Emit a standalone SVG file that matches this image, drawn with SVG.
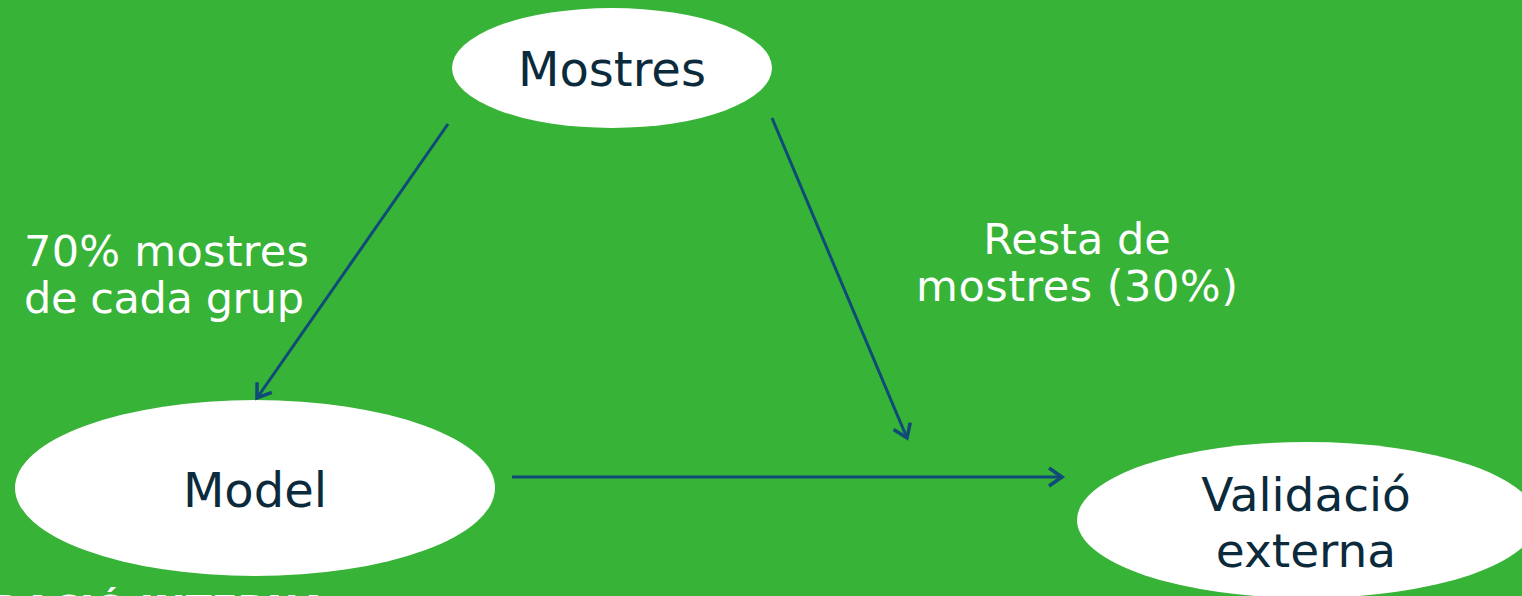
<svg xmlns="http://www.w3.org/2000/svg" width="1522" height="596" viewBox="0 0 1522 596">
<defs>
<marker id="ah" markerWidth="22" markerHeight="22" refX="15" refY="11" orient="auto" markerUnits="userSpaceOnUse">
<path d="M2,2 L15,11 L2,20" fill="none" stroke="#0f4a78" stroke-width="3.5"/>
</marker>
<style>
.node{fill:#ffffff;}
.nt{font-family:"DejaVu Sans",Verdana,sans-serif;fill:#0b2a3c;text-anchor:middle;}
.lbl{font-family:"DejaVu Sans",Verdana,sans-serif;fill:#ffffff;font-size:43px;}
.conn{stroke:#0f4a78;stroke-width:3;fill:none;marker-end:url(#ah);}
</style>
</defs>
<rect width="1522" height="596" fill="#37b337"/>
<g id="mostres">
<ellipse class="node" cx="612" cy="68" rx="160" ry="60"/>
<text class="nt" x="612" y="86" font-size="48">Mostres</text>
</g>
<g id="model">
<ellipse class="node" cx="255" cy="488" rx="240" ry="88"/>
<text class="nt" x="255" y="507" font-size="48">Model</text>
</g>
<g id="validacio">
<ellipse class="node" cx="1307" cy="520" rx="230" ry="78"/>
<text class="nt" x="1306" y="511" font-size="47">Validació</text>
<text class="nt" x="1306" y="567" font-size="47">externa</text>
</g>
<g id="connectors">
<line class="conn" x1="448" y1="124" x2="257" y2="398"/>
<line class="conn" x1="772" y1="118" x2="907" y2="438"/>
<line class="conn" x1="512" y1="477" x2="1062" y2="477"/>
</g>
<g id="labels">
<text class="lbl" x="24" y="266" textLength="285">70% mostres</text>
<text class="lbl" x="24" y="313" textLength="280">de cada grup</text>
<text class="lbl" x="1077" y="254" text-anchor="middle">Resta de</text>
<text class="lbl" x="1077" y="301" text-anchor="middle" textLength="322">mostres (30%)</text>
</g>
<text x="328" y="622" text-anchor="end" font-family="DejaVu Sans, Verdana, sans-serif" font-weight="bold" font-size="38" fill="#ffffff">VALIDACIÓ INTERNA</text>
</svg>
